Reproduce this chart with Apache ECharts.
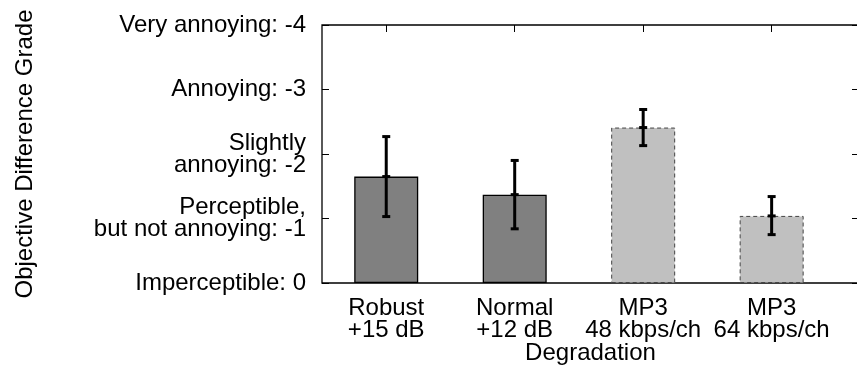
<!DOCTYPE html>
<html>
<head>
<meta charset="utf-8">
<script src="https://cdn.jsdelivr.net/npm/echarts@6/dist/echarts.min.js"></script>
<style>
  html, body { margin: 0; padding: 0; background: #fff; }
  #chart { width: 857px; height: 369px; }
</style>
</head>
<body>
<div id="chart"></div>
<script>
// categories along the x axis (one per bar)
const categories = ['Robust\n+15 dB', 'Normal\n+12 dB', 'MP3\n48 kbps/ch', 'MP3\n64 kbps/ch']
// mean objective difference grade for each degradation
const means = [-1.65, -1.37, -2.41, -1.04]
// error bar ends
const errLow = [-1.03, -0.84, -2.13, -0.75]
const errHigh = [-2.27, -1.90, -2.69, -1.34]
// 0 = codec bars (dark, solid edge), 1 = mp3 bars (light, dashed edge)
const groups = [0, 0, 1, 1]
// y tick labels
const gradeLabels = {
    '0': 'Imperceptible: 0',
    '-1': 'Perceptible,\nbut not annoying: -1',
    '-2': 'Slightly\nannoying: -2',
    '-3': 'Annoying: -3',
    '-4': 'Very annoying: -4'
}

const FONT = '"Liberation Sans", Arial, sans-serif'
const FS = 24
const tickIdx = categories.map((c, i) => i)

const barStyles = [
    { color: '#808080', borderColor: '#000', borderWidth: 1.3, borderType: 'solid' },
    { color: '#c0c0c0', borderColor: '#444', borderWidth: 1, borderType: [4, 3] }
]

const barData = means.map((v, i) => ({
    value: [i, v],
    itemStyle: barStyles[groups[i]]
}))

const errData = means.map((v, i) => [i, v, errLow[i], errHigh[i]])

const chart = echarts.init(document.getElementById('chart'))
chart.setOption({
    animation: false,
    textStyle: { fontFamily: FONT },
    grid: {
        left: 322, top: 25, right: -2, bottom: 86,
        show: true, borderColor: '#000', borderWidth: 1.3,
        containLabel: false, outerBoundsMode: 'none'
    },
    xAxis: [
        {
            type: 'value',
            min: -0.5,
            max: 3.68,
            position: 'bottom',
            name: 'Degradation',
            nameLocation: 'middle',
            nameGap: 58,
            nameMoveOverlap: false,
            nameTextStyle: { fontSize: FS, color: '#000', fontFamily: FONT },
            axisLine: { show: false, onZero: false },
            splitLine: { show: false },
            axisTick: { inside: true, length: 7, customValues: tickIdx, lineStyle: { color: '#000' } },
            axisLabel: {
                customValues: tickIdx,
                formatter: v => categories[Math.round(v)] || '',
                fontSize: FS,
                lineHeight: 22,
                color: '#000',
                margin: 14,
                fontFamily: FONT
            }
        },
        {
            type: 'value',
            min: -0.5,
            max: 3.68,
            position: 'top',
            axisLine: { show: false, onZero: false },
            splitLine: { show: false },
            axisTick: { inside: true, length: 7, customValues: tickIdx, lineStyle: { color: '#000' } },
            axisLabel: { show: false }
        }
    ],
    yAxis: [
        {
            type: 'value',
            inverse: true,
            min: -4,
            max: 0,
            interval: 1,
            position: 'left',
            name: 'Objective Difference Grade',
            nameLocation: 'middle',
            nameGap: 285,
            nameMoveOverlap: false,
            nameTextStyle: { fontSize: FS, color: '#000', fontFamily: FONT },
            axisLine: { show: false, onZero: false },
            splitLine: { show: false },
            axisTick: { inside: true, length: 7, lineStyle: { color: '#000' } },
            axisLabel: {
                formatter: v => gradeLabels[String(v)] || '',
                fontSize: FS,
                lineHeight: 22,
                color: '#000',
                margin: 16,
                align: 'right',
                fontFamily: FONT
            }
        },
        {
            type: 'value',
            inverse: true,
            min: -4,
            max: 0,
            interval: 1,
            position: 'right',
            axisLine: { show: false, onZero: false },
            splitLine: { show: false },
            axisTick: { inside: true, length: 7, lineStyle: { color: '#000' } },
            axisLabel: { show: false }
        }
    ],
    series: [
        {
            type: 'bar',
            xAxisIndex: 0,
            yAxisIndex: 0,
            barWidth: 64,
            data: barData
        },
        {
            type: 'custom',
            xAxisIndex: 0,
            yAxisIndex: 0,
            z: 5,
            data: errData,
            renderItem: (params, api) => {
                const mid = api.coord([api.value(0), api.value(1)])
                const lo = api.coord([api.value(0), api.value(2)])
                const hi = api.coord([api.value(0), api.value(3)])
                const half = 4
                const style = { stroke: '#000', lineWidth: 3 }
                const seg = (x1, y1, x2, y2) => ({ type: 'line', shape: { x1, y1, x2, y2 }, style })
                return {
                    type: 'group',
                    children: [
                        seg(mid[0], lo[1], mid[0], hi[1]),
                        seg(mid[0] - half, lo[1], mid[0] + half, lo[1]),
                        seg(mid[0] - half, hi[1], mid[0] + half, hi[1]),
                        seg(mid[0] - half, mid[1], mid[0] + half, mid[1])
                    ]
                }
            }
        }
    ]
})
</script>
</body>
</html>
